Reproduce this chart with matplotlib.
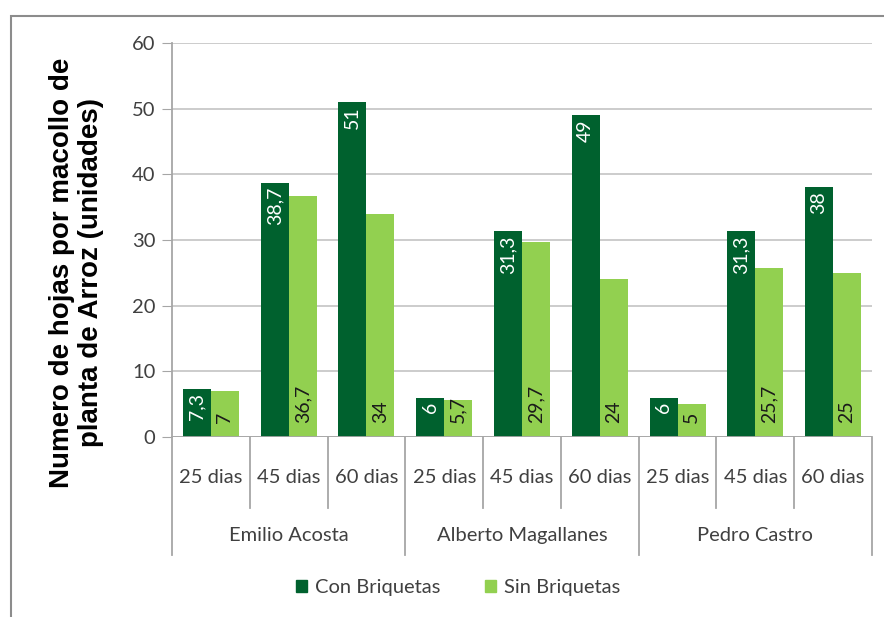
import matplotlib
matplotlib.use("Agg")
import matplotlib.pyplot as plt
from matplotlib.patches import Patch, Rectangle
import matplotlib.transforms as mtransforms
import numpy as np

plt.rcParams['font.family'] = ['Lato', 'DejaVu Sans']

productores = ['Emilio Acosta', 'Alberto Magallanes', 'Pedro Castro']
dias = ['25 dias', '45 dias', '60 dias']
con_briquetas = [7.3, 38.7, 51, 6, 31.3, 49, 6, 31.3, 38]
sin_briquetas = [7, 36.7, 34, 5.7, 29.7, 24, 5, 25.7, 25]

verde_oscuro = '#00612e'
verde_claro = '#92d050'
gris = '#a6a6a6'
texto = '#404040'
fs = 14.5


def fmt(v):
    return f"{v:g}".replace('.', ',')


fig = plt.figure(figsize=(8.84, 6.17), dpi=100)
ax = fig.add_axes([172 / 884, 180 / 617, 700 / 884, 394 / 617])

# marco exterior
fig.patches.append(Rectangle((11 / 884, -0.1), 1.2, 1 - 16 / 617 + 0.1,
                             transform=fig.transFigure, fill=False,
                             edgecolor='#8c8c8c', lw=1.5))

x = np.arange(len(con_briquetas))
w = 0.36
ax.bar(x - w / 2, con_briquetas, w, color=verde_oscuro, zorder=3)
ax.bar(x + w / 2, sin_briquetas, w, color=verde_claro, zorder=3)

for xi, v in zip(x, con_briquetas):
    ax.annotate(fmt(v), (xi - w / 2, v), xytext=(0, -3), textcoords='offset points',
                rotation=90, ha='center', va='top', color='white', fontsize=14, zorder=4)
for xi, v in zip(x, sin_briquetas):
    ax.text(xi + w / 2, 2.2, fmt(v), rotation=90, ha='center', va='bottom',
            color='#1a1a1a', fontsize=14, zorder=4)

ax.set_xlim(-0.5, len(x) - 0.5)
ax.set_ylim(0, 60)
ax.set_yticks(range(0, 61, 10))
ax.yaxis.grid(True, color='#c8c8c8', lw=1.3, zorder=0)
ax.tick_params(axis='y', length=7, color=gris, labelcolor=texto, labelsize=fs, pad=5)
ax.set_xticks([])
for s in ['top', 'right', 'bottom']:
    ax.spines[s].set_visible(False)
ax.spines['left'].set_color(gris)
ax.spines['left'].set_linewidth(1.3)
ax.axhline(0, color=gris, lw=1.3, zorder=5)

# eje x jerarquico
trans = mtransforms.blended_transform_factory(ax.transData, ax.transAxes)
for i in range(len(x) + 1):
    bajo = -0.30 if i % 3 == 0 else -0.18
    ax.plot([i - 0.5, i - 0.5], [0, bajo], color=gris, lw=1.3,
            transform=trans, clip_on=False)
for i in range(len(x)):
    ax.text(i, -0.104, dias[i % 3], transform=trans, ha='center', va='center',
            fontsize=fs, color=texto)
for g, nombre in enumerate(productores):
    ax.text(3 * g + 1, -0.249, nombre, transform=trans, ha='center', va='center',
            fontsize=fs, color=texto)

fig.text(0.087, 0.558, 'Numero de hojas por macollo de\nplanta de Arroz (unidades)',
         rotation=90, ha='center', va='center', fontsize=20, fontweight='bold',
         family='Liberation Sans', linespacing=1.15)

handles = [Patch(color=verde_oscuro, label='Con Briquetas'),
           Patch(color=verde_claro, label='Sin Briquetas')]
fig.legend(handles=handles, loc='center', bbox_to_anchor=(0.518, 1 - 588 / 617),
           ncol=2, frameon=False, fontsize=fs, handlelength=0.55, handleheight=0.55,
           columnspacing=2.2, handletextpad=0.4, labelcolor=texto)

fig.savefig('out.png', dpi=100)
